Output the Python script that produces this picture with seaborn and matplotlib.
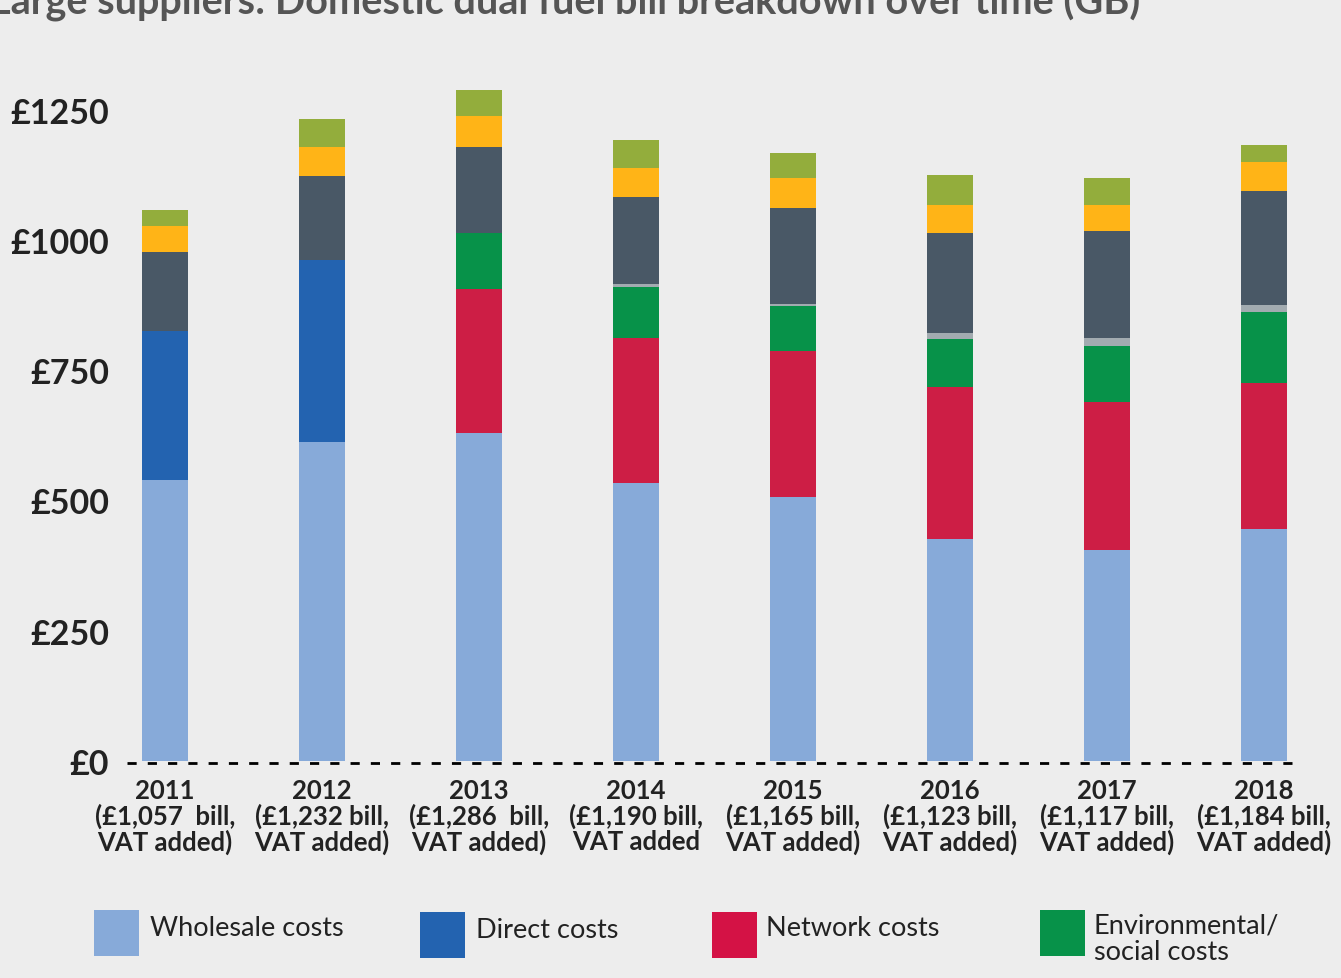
import numpy as np
import pandas as pd
import matplotlib
matplotlib.use("Agg")
import matplotlib.pyplot as plt
import seaborn as sns
from matplotlib.patches import Rectangle

# ---- data ----
years = ["2011", "2012", "2013", "2014", "2015", "2016", "2017", "2018"]
bill_labels = ["(£1,057  bill,", "(£1,232 bill,", "(£1,286  bill,", "(£1,190 bill,",
               "(£1,165 bill,", "(£1,123 bill,", "(£1,117 bill,", "(£1,184 bill,"]
vat_labels = ["VAT added)", "VAT added)", "VAT added)", "VAT added",
              "VAT added)", "VAT added)", "VAT added)", "VAT added)"]

wholesale = [539, 613, 629, 533, 506, 426, 404, 445]
direct = [287, 348, 0, 0, 0, 0, 0, 0]
network = [0, 0, 277, 279, 280, 292, 285, 281]
environmental = [0, 0, 108, 98, 87, 91, 107, 135]
other_direct = [0, 0, 0, 6, 5, 13, 15, 15]
operating = [150, 162, 164, 166, 184, 192, 206, 217]
margin = [50, 56, 59, 57, 56, 54, 51, 56]
vat = [31, 54, 50, 52, 48, 56, 50, 34]

y_ticks = [0, 250, 500, 750, 1000, 1250]
y_tick_labels = ["£0", "£250", "£500", "£750", "£1000", "£1250"]

title = "Large suppliers: Domestic dual fuel bill breakdown over time (GB)"
legend_names = ["Wholesale costs", "Direct costs", "Network costs", "Environmental/\nsocial costs"]

components = ["wholesale", "direct", "network", "environmental", "other_direct",
              "operating", "margin", "vat"]
colors = {
    "wholesale": "#87aad9",
    "direct": "#2363b0",
    "network": "#cd1e45",
    "environmental": "#079249",
    "other_direct": "#a2abb0",
    "operating": "#495866",
    "margin": "#ffb417",
    "vat": "#93ad3c",
}
legend_colors = ["#87aad9", "#2363b0", "#d41245", "#079249"]

df = pd.DataFrame({
    "year": years,
    "wholesale": wholesale,
    "direct": direct,
    "network": network,
    "environmental": environmental,
    "other_direct": other_direct,
    "operating": operating,
    "margin": margin,
    "vat": vat,
})

# ---- style ----
BG = "#ededed"
sns.set_theme(style="white")
plt.rcParams["font.family"] = ["Lato", "DejaVu Sans"]
plt.rcParams["figure.facecolor"] = BG
plt.rcParams["axes.facecolor"] = BG

W, H = 1341, 979
fig = plt.figure(figsize=(W / 100, H / 100), dpi=100)
ax = fig.add_axes([127 / W, (H - 762) / H, (1297 - 127) / W, (762 - 69) / H])

bottom = np.zeros(len(years))
for comp in components:
    sns.barplot(data=df, x="year", y=comp, order=years, color=colors[comp],
                saturation=1, width=0.287, bottom=bottom, linewidth=0, ax=ax)
    bottom = bottom + df[comp].to_numpy()

ax.set_xlim(-0.242, 7.21)
ax.set_ylim(0, 1330)
for s in ax.spines.values():
    s.set_visible(False)
ax.axhline(-4, color="black", lw=2, linestyle=(0, (3.3, 4.0)), clip_on=False, zorder=5)

ax.set_yticks(y_ticks)
ax.set_yticklabels(y_tick_labels, fontsize=24.5, fontweight="bold", color="#222222")
ax.set_xticks(range(len(years)))
ax.set_xticklabels([f"{y}\n{b}\n{v}" for y, b, v in zip(years, bill_labels, vat_labels)],
                   fontsize=18.5, fontweight="bold", color="#222222", linespacing=1.05)
ax.tick_params(axis="y", length=0, pad=13)
ax.tick_params(axis="x", length=0, pad=12)
ax.set_xlabel("")
ax.set_ylabel("")
ax.grid(False)

# title (cropped at top in the reference)
fig.text(-10 / W, (H - 14) / H, title, fontsize=28.5, fontweight="bold", color="#555555",
         ha="left", va="baseline")

# legend (manual, figure coordinates)
sw = [(94, 911), (420, 913), (712, 913), (1040, 911)]
tx = [(150, 929), (476, 931), (766, 929), (1094, 939)]
for (x0, y0), (xt, yt), name, c in zip(sw, tx, legend_names, legend_colors):
    fig.add_artist(Rectangle((x0 / W, (H - y0 - 46) / H), 45 / W, 46 / H,
                             transform=fig.transFigure, facecolor=c, edgecolor="none"))
    fig.text(xt / W, (H - yt) / H, name, fontsize=19.5, color="#222222",
             ha="left", va="center", linespacing=1.08)

fig.savefig("out.png", dpi=100, facecolor=BG)
